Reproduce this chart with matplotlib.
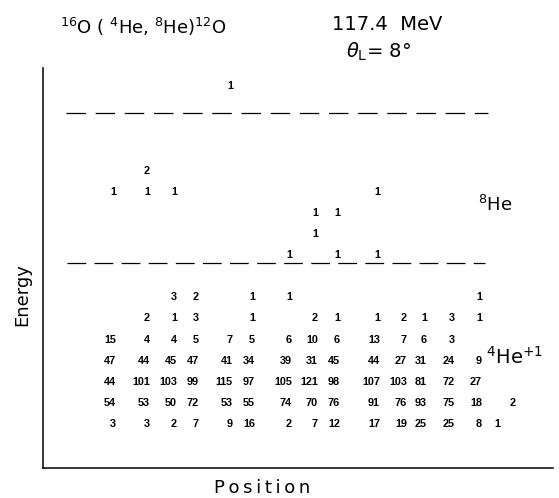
import matplotlib
matplotlib.use('Agg')
import matplotlib.pyplot as plt

plt.rcParams['lines.scale_dashes'] = False

# Position channels of the printed columns (right edges of the numbers)
columns = [116, 150, 177, 199, 233, 255, 292, 318, 340, 380, 407, 427, 455, 482, 500, 516]

# 4He+1 counts, one list per energy row (row 0 = lowest), None = empty cell
he4_row0 = [3, 3, 2, 7, 9, 16, 2, 7, 12, 17, 19, 25, 25, 8, 1, None]
he4_row1 = [54, 53, 50, 72, 53, 55, 74, 70, 76, 91, 76, 93, 75, 18, None, 2]
he4_row2 = [44, 101, 103, 99, 115, 97, 105, 121, 98, 107, 103, 81, 72, 27, None, None]
he4_row3 = [47, 44, 45, 47, 41, 34, 39, 31, 45, 44, 27, 31, 24, 9, None, None]
he4_row4 = [15, 4, 4, 5, 7, 5, 6, 10, 6, 13, 7, 6, 3, None, None, None]
he4_row5 = [None, 2, 1, 3, None, 1, None, 2, 1, 1, 2, 1, 3, 1, None, None]
he4_row6 = [None, None, 3, 2, None, 1, 1, None, None, None, None, None, None, 1, None, None]
he4_rows = [he4_row0, he4_row1, he4_row2, he4_row3, he4_row4, he4_row5, he4_row6]

# 8He events: column index (0-based), energy row, count
he8_col = [4, 1, 0, 1, 2, 9, 7, 8, 7, 6, 8, 9]
he8_row = [16, 12, 11, 11, 11, 11, 10, 10, 9, 8, 8, 8]
he8_count = [1, 2, 1, 1, 1, 1, 1, 1, 1, 1, 1, 1]

# Energy levels of the dashed separator lines
cut_levels = [7.63, 14.74]

W, H = 559, 498
fig = plt.figure(figsize=(W / 100, H / 100), dpi=100)
ax = fig.add_axes([43 / W, (H - 468) / H, (553 - 43) / W, (468 - 68) / H])
ax.set_xlim(43, 553)
ax.set_ylim(-2.085, 16.87)
for s in ['top', 'right']:
    ax.spines[s].set_visible(False)
for s in ['left', 'bottom']:
    ax.spines[s].set_linewidth(1.1)
ax.set_xticks([])
ax.set_yticks([])

num_kw = dict(ha='right', va='center', fontsize=7.8, fontweight='bold',
              family='Liberation Sans', color='black')

for r, row in enumerate(he4_rows):
    for c, v in enumerate(row):
        if v is not None:
            ax.text(columns[c], r, str(v), **num_kw)

for c, r, v in zip(he8_col, he8_row, he8_count):
    ax.text(columns[c], r, str(v), **num_kw)

ax.hlines(cut_levels[0], 67, 485, colors='black', linewidth=0.9,
          linestyles=(0, (13.5, 6)))
ax.hlines(cut_levels[1], 66, 488, colors='black', linewidth=0.9,
          linestyles=(0, (14, 7)))

# Region labels
ax.text(478, 10.4, r'$^{8}$He', fontsize=13, ha='left', va='center')
ax.text(486, 3.2, r'$^{4}$He$^{+1}$', fontsize=14, ha='left', va='center')

# Titles
fig.text(60 / W, 1 - 27 / H, r'$^{16}$O ( $^{4}$He, $^{8}$He)$^{12}$O',
         fontsize=13, ha='left', va='center')
fig.text(387 / W, 1 - 24 / H, '117.4  MeV', fontsize=14, ha='center', va='center')
fig.text(378 / W, 1 - 52 / H, r'$\theta_{\rm L}$= 8°', fontsize=14, ha='center', va='center')

# Axis labels
fig.text(22 / W, 1 - 295 / H, 'Energy', fontsize=13, rotation=90,
         ha='center', va='center')
fig.text(262 / W, 1 - 488 / H, 'P\u2009o\u2009s\u2009i\u2009t\u2009i\u2009o\u2009n',
         fontsize=13, ha='center', va='center')

fig.savefig('out.png', dpi=100)
